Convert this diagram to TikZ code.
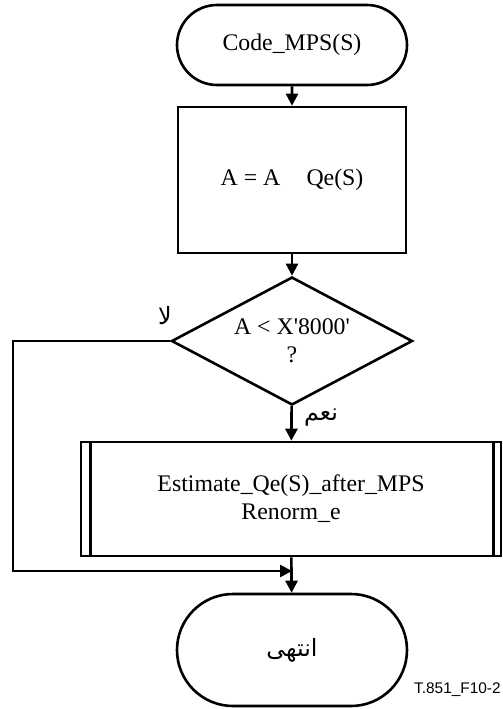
\documentclass[tikz,border=0pt]{standalone}
\usepackage{fontspec}
\setmainfont{Liberation Serif}
\setsansfont{Liberation Sans}
\newfontfamily\arabicfont[Script=Arabic]{DejaVu Sans}
\TeXXeTstate=1
\usetikzlibrary{shapes.geometric,shapes.misc,arrows.meta}

\begin{document}
\begin{tikzpicture}[x=0.5pt,y=-0.5pt]
      % Define styles for nodes
      \tikzstyle{terminal} = [draw, rounded rectangle, line width=1.3pt,
      minimum width=115pt, minimum height=40pt, inner sep=0pt]
      \tikzstyle{process} = [draw, rectangle, line width=1.3pt,
      minimum width=114pt, minimum height=73pt, inner sep=0pt]
      \tikzstyle{decision} = [draw, diamond, aspect=1.88, line width=1.3pt,
      minimum width=120.5pt, minimum height=64pt, inner sep=0pt, align=center]
      \tikzstyle{subproc} = [draw, rectangle, line width=1.3pt,
      minimum width=210pt, minimum height=57pt, inner sep=0pt, align=center]
      \tikzstyle{flow} = [line width=1.3pt, -{Triangle[length=6pt,width=6pt]}]

      \fontsize{11.9}{14}\selectfont
      \useasboundingbox (0,0) rectangle (503,709);

      % Flowchart boxes
      \node[terminal] (start) at (292,45) {Code\_MPS(S)};
      \node[process] (calc) at (292,180) {A = A\hspace{1.1em}Qe(S)};
      \node[decision] (test) at (292,341)
            {A < X\textquotesingle 8000\textquotesingle\\?};
      \node[subproc] (estim) at (291,499) {Estimate\_Qe(S)\_after\_MPS\\Renorm\_e};
      \node[terminal, minimum height=56pt] (stop) at (292,650)
            {\arabicfont\beginR انتهى\endR};

      % Side lines of the subprocess box
      \draw[line width=1.3pt] ([xshift=5.5pt]estim.north west) -- ([xshift=5.5pt]estim.south west);
      \draw[line width=1.3pt] ([xshift=-4.5pt]estim.north east) -- ([xshift=-4.5pt]estim.south east);

      % Branch labels
      \node (no) at (165,316) {\arabicfont\beginR لا\endR};
      \node (yes) at (321,418) {\arabicfont\beginR نعم\endR};

      % Connections
      \coordinate (loop) at (13,341);
      \coordinate (join) at (292,571);
      \draw[flow] (start) -- (calc);
      \draw[flow] (calc) -- (test);
      \draw[flow] (test) -- (estim);
      \draw[flow] (estim) -- (stop);
      \draw[flow] (test.west) -- (loop) |- (join);

      % Figure number
      \node[anchor=east, inner sep=1pt, font=\sffamily\fontsize{7.7}{9}\selectfont] (fig) at (503,690) {T.851\_F10-2};
\end{tikzpicture}
\end{document}
